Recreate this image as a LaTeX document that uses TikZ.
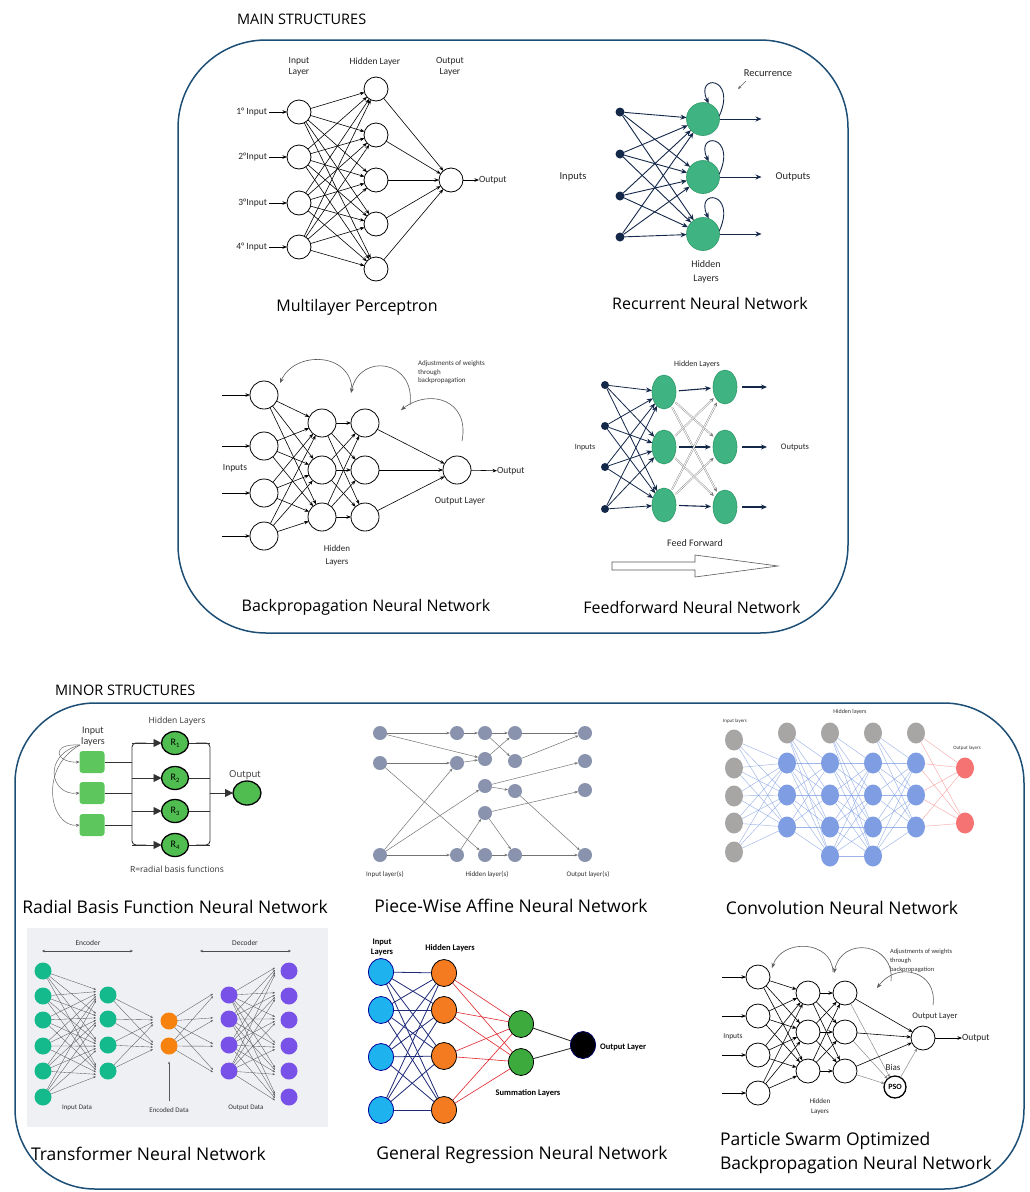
\documentclass[tikz,border=0pt]{standalone}
\usepackage{fontspec}
\setmainfont{Carlito}
\newfontfamily\capfont{Open Sans}
\usetikzlibrary{arrows.meta,shapes.geometric}

\definecolor{frameblue}{HTML}{1D4F76}
\definecolor{navy}{HTML}{14284A}
\definecolor{rgreen}{HTML}{3FB482}
\definecolor{rgreenD}{HTML}{2F9868}
\definecolor{bgreen}{HTML}{4FBD4F}
\definecolor{sqgreen}{HTML}{5DC65D}
\definecolor{pgrey}{HTML}{8A93AD}
\definecolor{cgrey}{HTML}{A8A5A5}
\definecolor{cblue}{HTML}{7E9DE2}
\definecolor{cred}{HTML}{F67373}
\definecolor{tteal}{HTML}{14B98C}
\definecolor{torange}{HTML}{F7820E}
\definecolor{tpurple}{HTML}{7852E8}
\definecolor{tbg}{HTML}{EEF0F4}
\definecolor{gblue}{HTML}{1EB3EF}
\definecolor{gorange}{HTML}{F47B20}
\definecolor{ggreen}{HTML}{3DAA3D}
\definecolor{gnavy}{HTML}{1E2A78}
\definecolor{gred}{HTML}{E0242A}

\tikzset{
  hdr/.style={font=\capfont\fontsize{14.5}{17}\selectfont, anchor=west},
  capt/.style={font=\capfont\fontsize{16}{19}\selectfont},
  captmin/.style={font=\capfont\fontsize{17.5}{20}\selectfont},
  lbl/.style={font=\fontsize{9.5}{11}\selectfont, text=black!85, align=center},
  lblsm/.style={font=\fontsize{7}{8.5}\selectfont, text=black!80, align=left},
  lblbf/.style={font=\bfseries\fontsize{8.5}{10}\selectfont, align=center},
  boxframe/.style={draw=frameblue, line width=1.5pt},
  wn/.style={circle, draw=black, line width=0.8pt, fill=white, minimum size=#1},
  wn/.default=24pt,
  sarrow/.style={line width=0.6pt, -{Stealth[length=4.5pt,width=3.5pt]}},
  backarc/.style={draw=black!65, line width=0.6pt, -{Stealth[length=5pt,width=4pt]}},
  ndot/.style={circle, fill=navy, minimum size=9pt},
  rnode/.style={circle, fill=rgreen, draw=rgreenD, line width=0.6pt, minimum size=33pt},
  narr/.style={draw=navy, line width=0.9pt, -{Stealth[length=6pt,width=5pt]}},
  fell/.style={ellipse, fill=rgreen, draw=rgreenD, line width=0.6pt, minimum width=24pt, minimum height=34pt},
  fdbl/.style={draw=black!55, double=white, double distance=0.9pt, line width=0.35pt, -{Stealth[length=4pt,width=3.5pt]}},
  rbsq/.style={rectangle, rounded corners=3pt, fill=sqgreen, minimum width=25pt, minimum height=22pt},
  rbn/.style={ellipse, fill=bgreen, draw=black, line width=1.3pt, minimum width=27pt, minimum height=23pt, font=\fontsize{10}{10}\selectfont},
  rbline/.style={draw=black!80, line width=0.9pt},
  rbarr/.style={draw=black!80, line width=0.9pt, -{Triangle[length=8pt,width=8pt]}},
  thinarr/.style={draw=black!60, line width=0.5pt, -{Stealth[length=3.5pt,width=3pt]}},
  pwn/.style={circle, fill=pgrey, minimum size=14pt},
  pwarr/.style={draw=black!55, line width=0.5pt, -{Stealth[length=3.5pt,width=2.5pt]}},
  cnnnode/.style={ellipse, fill=#1, minimum width=18pt, minimum height=21pt},
  cnnline/.style={draw=cblue, line width=0.45pt, opacity=0.75},
  cnnred/.style={draw=cred, line width=0.45pt, opacity=0.6},
  tnode/.style={circle, fill=#1, minimum size=17pt},
  tarr/.style={draw=black!65, line width=0.35pt, -{Stealth[length=2.5pt,width=2pt]}},
  tdarr/.style={draw=black!70, line width=0.5pt, {Stealth[length=3pt,width=2.5pt]}-{Stealth[length=3pt,width=2.5pt]}},
  gnode/.style={ellipse, fill=#1, draw=black, line width=0.8pt, minimum width=25pt, minimum height=27pt},
}

\begin{document}
\begin{tikzpicture}[x=1pt,y=-1pt, every node/.append style={inner sep=0pt, outer sep=0pt}]
\useasboundingbox (0,0) rectangle (1029,1192);
\fill[white] (0,0) rectangle (1029,1192);

% ---------------- headings and frames ----------------
\node[hdr] (hMain) at (237,19) {MAIN STRUCTURES};
\node[hdr] (hMinor) at (55,690) {MINOR STRUCTURES};
\draw[boxframe, rounded corners=88pt] (178,40) rectangle (848,633);
\draw[boxframe, rounded corners=80pt] (15,703) rectangle (1024,1189);

% ---------------- Multilayer perceptron ----------------
\node[lbl] (mlpInL) at (299,67) {Input\\Layer};
\node[lbl] (mlpHidL) at (375,62) {Hidden Layer};
\node[lbl] (mlpOutL) at (450,67) {Output\\Layer};
\foreach \y [count=\i] in {112,157,203,247} \node[wn] (mi\i) at (299,\y) {};
\foreach \y [count=\i] in {89,135,180,224,269} \node[wn] (mh\i) at (376,\y) {};
\node[wn] (mo) at (451,180) {};
\foreach \i in {1,...,4} \foreach \j in {1,...,5} \draw[sarrow] (mi\i) -- (mh\j);
\foreach \j in {1,...,5} \draw[sarrow] (mh\j) -- (mo);
\foreach \y/\t [count=\i] in {112/1° Input,157/2°Input,203/3°Input,247/4° Input} {
  \node[lbl, anchor=east] (mil\i) at (267,\y) {\t};
  \draw[sarrow] ([xshift=2pt]mil\i.east) -- (mi\i);
}
\node[lbl, anchor=west] (mol) at (479,180) {Output};
\draw[sarrow] (mo) -- (mol);
\node[capt] (capMLP) at (357,307) {Multilayer Perceptron};

% ---------------- Recurrent neural network ----------------
\node[lbl, font=\fontsize{10.5}{11}\selectfont] (rRec) at (768,73) {Recurrence};
\coordinate (recA) at (746,81);
\coordinate (recB) at (738,89);
\draw[thinarr] (recA) -- (recB);
\foreach \y [count=\i] in {112,154,196,237} \node[ndot] (ri\i) at (620,\y) {};
\foreach \y [count=\i] in {119,177,234} \node[rnode] (rh\i) at (703,\y) {};
\foreach \i in {1,...,4} \foreach \j in {1,2,3} \draw[narr] (ri\i) -- (rh\j);
\foreach \j in {1,2,3} {
  \draw[narr] (rh\j.10) .. controls +(18,-40) and +(-14,-30) .. (rh\j.70);
  \path (rh\j.east) ++(42,0) coordinate (ro\j);
  \draw[narr] (rh\j) -- (ro\j);
}
\node[lbl, font=\fontsize{10.5}{11}\selectfont] (rInL) at (573,177) {Inputs};
\node[lbl, font=\fontsize{10.5}{11}\selectfont] (rOutL) at (793,177) {Outputs};
\node[lbl, font=\fontsize{10}{14.5}\selectfont] (rHidL) at (706,272) {Hidden\\Layers};
\node[capt] (capRNN) at (710,303) {Recurrent Neural Network};

% ---------------- Backpropagation neural network ----------------
\foreach \y [count=\i] in {395,446,493,536} {
  \node[wn=28pt] (bi\i) at (264,\y) {};
  \coordinate (bin\i) at (222,\y);
  \draw[sarrow] (bin\i) -- (bi\i);
}
\foreach \y [count=\i] in {423,470,517} {
  \node[wn=28pt] (bh\i) at (322,\y) {};
  \node[wn=28pt] (bk\i) at (365,\y) {};
}
\node[wn=28pt] (bo) at (457,470) {};
\foreach \i in {1,...,4} \foreach \j in {1,2,3} \draw[sarrow] (bi\i) -- (bh\j);
\foreach \i in {1,2,3} \foreach \j in {1,2,3} \draw[sarrow] (bh\i) -- (bk\j);
\foreach \i in {1,2,3} \draw[sarrow] (bk\i) -- (bo);
\node[lbl, anchor=west] (bol) at (497,471) {Output};
\draw[sarrow] (bo) -- (bol);
\node[lbl] (bInL) at (235,468) {Inputs};
\node[lbl] (bOutL) at (460,501) {Output Layer};
\node[lbl, font=\fontsize{9}{13}\selectfont] (bHidL) at (337,556) {Hidden\\Layers};
\node[lblsm, anchor=north west] (bAdj) at (418,361) {Adjustments of weights\\through\\backpropagation};
\coordinate (ba1s) at (352,391); \coordinate (ba1e) at (280,383);
\coordinate (ba2s) at (410,405); \coordinate (ba2e) at (351,393);
\coordinate (ba3s) at (462,441); \coordinate (ba3e) at (401,410);
\draw[backarc] (ba1s) .. controls (352,352) and (295,350) .. (ba1e);
\draw[backarc] (ba2s) .. controls (416,360) and (360,352) .. (ba2e);
\draw[backarc] (ba3s) .. controls (470,400) and (430,388) .. (ba3e);
\node[capt] (capBP) at (366,607) {Backpropagation Neural Network};

% ---------------- Feedforward neural network ----------------
\foreach \y [count=\i] in {385,426,467,509} \node[ndot, minimum size=8pt] (fi\i) at (605,\y) {};
\foreach \y [count=\i] in {392,447,505} \node[fell] (fa\i) at (664,\y) {};
\foreach \y [count=\i] in {387,447,507} \node[fell] (fb\i) at (725,\y) {};
\foreach \i in {1,...,4} \foreach \j in {1,2,3} \draw[narr, line width=0.8pt] (fi\i) -- (fa\j);
\foreach \i in {1,2,3} {
  \draw[narr, line width=1.1pt, shorten <=3pt, shorten >=2pt] (fa\i) -- (fb\i);
  \foreach \j in {1,2,3} {
    \ifnum\i=\j\else \draw[fdbl, shorten <=2pt, shorten >=2pt] (fa\i) -- (fb\j); \fi
  }
  \path (fb\i.east) ++(30,0) coordinate (fo\i);
  \draw[narr, line width=1.1pt, shorten <=5pt] (fb\i) -- (fo\i);
}
\node[lbl, font=\fontsize{8}{9}\selectfont] (fHidL) at (697,364) {Hidden Layers};
\node[lbl, font=\fontsize{8}{9}\selectfont] (fInL) at (585,448) {Inputs};
\node[lbl, font=\fontsize{8.5}{9}\selectfont] (fOutL) at (795,447) {Outputs};
\node[lbl, font=\fontsize{10}{11}\selectfont] (fFF) at (695,543) {Feed Forward};
\draw[draw=black!65, line width=0.6pt, fill=white]
  (612,562) -- (695,562) -- (695,555) -- (778,566) -- (695,577) -- (695,570) -- (612,570) -- cycle;
\node[capt] (capFF) at (692,607) {Feedforward Neural Network};

% ---------------- Radial basis function network ----------------
\node[lbl, font=\fontsize{10}{11}\selectfont, text=black!80] (rbIn) at (93,737) {Input\\layers};
\node[lbl, font=\capfont\fontsize{8.5}{10}\selectfont, text=black!80] (rbHid) at (177,721) {Hidden Layers};
\node[lbl, font=\capfont\fontsize{9.5}{10}\selectfont, text=black!80] (rbOutL) at (245,775) {Output};
\node[lbl, font=\capfont\fontsize{8.5}{10}\selectfont, text=black!80] (rbR) at (177,869) {R=radial basis functions};
\foreach \y [count=\i] in {762,793,825} {
  \node[rbsq] (rs\i) at (92,\y) {};
  \coordinate (rj\i) at (132,\y);
  \draw[rbline] (rs\i) -- (rj\i);
}
\foreach \y [count=\i] in {743,778,811,845} {
  \node[rbn] (rr\i) at (175,\y) {R\raisebox{-.35ex}{\fontsize{6.5}{7}\selectfont\i}};
  \coordinate (rl\i) at (132,\y);
  \coordinate (rq\i) at (210,\y);
  \draw[rbarr] (rl\i) -- (rr\i);
  \draw[rbline] (rr\i) -- (rq\i);
}
\draw[rbline, rounded corners=4pt] ([xshift=14pt]rl1) -- (rl1) -- (rl4) -- ([xshift=14pt]rl4);
\draw[rbline, rounded corners=4pt] ([xshift=-14pt]rq1) -- (rq1) -- (rq4) -- ([xshift=-14pt]rq4);
\node[rbn, minimum width=28pt, minimum height=24pt] (rbOut) at (247,793) {};
\coordinate (rqm) at (210,793);
\draw[rbarr] (rqm) -- (rbOut);
\coordinate (rbSrc) at (80,745);
\draw[thinarr] (rbSrc) .. controls (50,743) and (55,763) .. (rs1.west);
\draw[thinarr] (rbSrc) .. controls (42,755) and (50,796) .. (rs2.west);
\draw[thinarr] (rbSrc) .. controls (38,768) and (50,828) .. (rs3.west);
\node[captmin] (capRBF) at (175,907) {Radial Basis Function Neural Network};

% ---------------- Piece-wise affine network ----------------
\foreach \n/\x/\y in {a1/380/733, a2/380/763, a3/380/855, b1/457/733, b2/457/763, b3/457/855,
  c1/485/733, c2/485/759, c3/485/786, c4/485/813, c5/485/855,
  d1/515/733, d2/515/761, d3/515/791, d4/515/855,
  e1/585/733, e2/585/761, e3/585/790, e4/585/855}
  \node[pwn] (p\n) at (\x,\y) {};
\foreach \s/\t in {a1/b1, a1/c2, a2/b2, a2/c5, a3/b2, a3/c3, a3/b3, b1/c1, b2/c2,
  c1/d1, c1/d2, c2/d1, d1/e1, d2/e1, c3/e2, c3/d3, d3/e4, c4/e3, b3/c4, c4/d4, c5/d4, d4/e4}
  \draw[pwarr] (p\s) -- (p\t);
\node[lblsm] (pInL) at (385,874) {Input layer(s)};
\node[lblsm] (pHidL) at (487,874) {Hidden layer(s)};
\node[lblsm] (pOutL) at (588,874) {Output layer(s)};
\node[captmin] (capPW) at (511,906) {Piece-Wise Affine Neural Network};

% ---------------- Convolution neural network ----------------
\foreach \i [count=\c] in {787,830,873,916} \node[cnnnode=cgrey] (cbias\c) at (\i,733) {};
\foreach \y [count=\i] in {740,768,796,823,852} \node[cnnnode=cgrey] (ci\i) at (734,\y) {};
\foreach \y [count=\i] in {763,795,827} {
  \node[cnnnode=cblue] (ca\i) at (787,\y) {};
  \node[cnnnode=cblue] (cd\i) at (916,\y) {};
}
\foreach \y [count=\i] in {763,795,827,856} {
  \node[cnnnode=cblue] (cb\i) at (830,\y) {};
  \node[cnnnode=cblue] (cc\i) at (873,\y) {};
}
\foreach \y [count=\i] in {768,823} \node[cnnnode=cred] (co\i) at (965,\y) {};
\foreach \i in {1,...,5} \foreach \j in {1,2,3} \draw[cnnline] (ci\i) -- (ca\j);
\foreach \j in {1,...,4} {
  \draw[cnnline] (cbias1) -- (cb\j);
  \draw[cnnline] (cbias2) -- (cc\j);
  \foreach \i in {1,2,3} \draw[cnnline] (ca\i) -- (cb\j);
  \foreach \i in {1,...,4} \draw[cnnline] (cb\i) -- (cc\j);
}
\foreach \j in {1,2,3} {
  \draw[cnnline] (cbias3) -- (cd\j);
  \foreach \i in {1,...,4} \draw[cnnline] (cc\i) -- (cd\j);
}
\foreach \j in {1,2} {
  \draw[cnnred] (cbias4) -- (co\j);
  \foreach \i in {1,2,3} \draw[cnnred] (cd\i) -- (co\j);
}
\node[lblsm, font=\fontsize{5}{6}\selectfont] (cInL) at (735,721) {Input layers};
\node[lblsm, font=\fontsize{6}{7}\selectfont] (cHidL) at (850,712) {Hidden layers};
\node[lblsm, font=\fontsize{5}{6}\selectfont] (cOutL) at (967,748) {Output layers};
\node[captmin] (capCNN) at (842,908) {Convolution Neural Network};

% ---------------- Transformer (autoencoder) ----------------
\fill[tbg] (27,928) rectangle (328,1127);
\node[lblsm, font=\fontsize{7.5}{8}\selectfont] (tEnc) at (88,943) {Encoder};
\node[lblsm, font=\fontsize{7.5}{8}\selectfont] (tDec) at (245,943) {Decoder};
\coordinate (tEncA) at (42,951); \coordinate (tEncB) at (133,951);
\coordinate (tDecA) at (200,951); \coordinate (tDecB) at (291,951);
\draw[tdarr] (tEncA) -- (tEncB);
\draw[tdarr] (tDecA) -- (tDecB);
\foreach \y [count=\i] in {971,996,1020,1046,1071,1097} {
  \node[tnode=tteal] (ta\i) at (43,\y) {};
  \node[tnode=tpurple] (te\i) at (289,\y) {};
}
\foreach \y [count=\i] in {995,1019,1045,1071} {
  \node[tnode=tteal] (tb\i) at (108,\y) {};
  \node[tnode=tpurple] (td\i) at (229,\y) {};
}
\foreach \y [count=\i] in {1021,1046} \node[tnode=torange] (tc\i) at (169,\y) {};
\foreach \i in {1,...,6} \foreach \j in {1,...,4} {
  \pgfmathsetmacro\off{(\i-3.5)*2.2}
  \draw[tarr] (ta\i) -- ([xshift=-12pt,yshift=-\off pt]tb\j.center);
}
\foreach \i in {1,...,4} \foreach \j in {1,2} {
  \pgfmathsetmacro\off{(\i-2.5)*2.2}
  \draw[tarr] (tb\i) -- ([xshift=-16pt,yshift=-\off pt]tc\j.center);
}
\foreach \i in {1,2} \foreach \j in {1,...,4} {
  \pgfmathsetmacro\off{(\i-1.5)*2.4}
  \draw[tarr] (tc\i) -- ([xshift=-16pt,yshift=-\off pt]td\j.center);
}
\foreach \i in {1,...,4} \foreach \j in {1,...,6} {
  \pgfmathsetmacro\off{(\i-2.5)*2.2}
  \draw[tarr] (td\i) -- ([xshift=-14pt,yshift=-\off pt]te\j.center);
}
\node[lblsm, font=\fontsize{7}{8}\selectfont] (tInL) at (77,1108) {Input Data};
\node[lblsm, font=\fontsize{7}{8}\selectfont] (tEdL) at (169,1110) {Encoded Data};
\node[lblsm, font=\fontsize{7}{8}\selectfont] (tOutL) at (246,1108) {Output Data};
\coordinate (tEdA) at (169,1101);
\draw[tarr] (tEdA) -- ([yshift=-7pt]tc2.south);
\node[captmin, anchor=west] (capTr) at (31,1154) {Transformer Neural Network};

% ---------------- General regression neural network ----------------
\foreach \y [count=\i] in {972,1010,1057,1110} \node[gnode=gblue, draw=blue!60!black] (gi\i) at (381,\y) {};
\foreach \y [count=\i] in {973,1010,1056,1110} \node[gnode=gorange] (gh\i) at (444,\y) {};
\foreach \y [count=\i] in {1024,1062} \node[gnode=ggreen] (gs\i) at (521,\y) {};
\node[gnode=black, draw=blue!40!black] (gout) at (583,1045) {};
\foreach \i in {1,...,4} \foreach \j in {1,...,4} \draw[draw=gnavy, line width=0.8pt] (gi\i) -- (gh\j);
\foreach \i in {1,...,4} \foreach \j in {1,2} \draw[draw=gred, line width=0.6pt] (gh\i) -- (gs\j);
\foreach \j in {1,2} \draw[draw=black!85, line width=0.8pt] (gs\j) -- (gout);
\node[lblbf] (gInL) at (382,947) {Input\\Layers};
\node[lblbf] (gHidL) at (450,948) {Hidden Layers};
\node[lblbf] (gSumL) at (528,1093) {Summation Layers};
\node[lblbf, anchor=west] (gOutL) at (600,1047) {Output Layer};
\node[captmin] (capGR) at (522,1155) {General Regression Neural Network};

% ---------------- PSO-optimised backpropagation network ----------------
\foreach \y [count=\i] in {977,1016,1055,1093} {
  \node[wn] (pi\i) at (758,\y) {};
  \coordinate (pin\i) at (722,\y);
  \draw[sarrow] (pin\i) -- (pi\i);
}
\foreach \y [count=\i] in {993,1032,1071} {
  \node[wn] (ph\i) at (808,\y) {};
  \node[wn] (pk\i) at (845,\y) {};
}
\node[wn] (po) at (923,1038) {};
\node[wn=22pt, line width=1.3pt, font=\bfseries\fontsize{8}{9}\selectfont] (pso) at (895,1087) {PSO};
\foreach \i in {1,...,4} \foreach \j in {1,2,3} \draw[sarrow] (pi\i) -- (ph\j);
\foreach \i in {1,2,3} \foreach \j in {1,2,3} \draw[sarrow] (ph\i) -- (pk\j);
\foreach \i in {1,2,3} {
  \draw[sarrow] (pk\i) -- (po);
  \draw[thinarr, draw=black!45] (pk\i) -- (pso);
}
\draw[thinarr, draw=black!45] (pso) -- (po);
\node[lbl, anchor=west] (pol) at (962,1038) {Output};
\draw[sarrow] (po) -- (pol);
\node[lbl, font=\fontsize{7.5}{9}\selectfont] (pInL) at (733,1037) {Inputs};
\node[lbl, font=\fontsize{8.5}{9}\selectfont] (pOutL) at (935,1016) {Output Layer};
\node[lbl, font=\fontsize{7}{10}\selectfont] (pHidL) at (820,1107) {Hidden\\Layers};
\node[lbl, font=\fontsize{9}{10}\selectfont] (pBias) at (893,1067) {Bias};
\node[lblsm, font=\fontsize{6.5}{9}\selectfont, anchor=north west] (pAdj) at (890,949) {Adjustments of weights\\through\\backpropagation};
\coordinate (pa1s) at (833,972); \coordinate (pa1e) at (772,968);
\coordinate (pa2s) at (891,981); \coordinate (pa2e) at (834,973);
\coordinate (pa3s) at (933,1005); \coordinate (pa3e) at (877,988);
\draw[backarc] (pa1s) .. controls (832,940) and (782,938) .. (pa1e);
\draw[backarc] (pa2s) .. controls (895,943) and (842,935) .. (pa2e);
\draw[backarc] (pa3s) .. controls (938,972) and (898,960) .. (pa3e);
\node[captmin, anchor=west] (capPSO1) at (720,1141) {Particle Swarm Optimized};
\node[captmin, anchor=west] (capPSO2) at (720,1165) {Backpropagation Neural Network};
\end{tikzpicture}
\end{document}
